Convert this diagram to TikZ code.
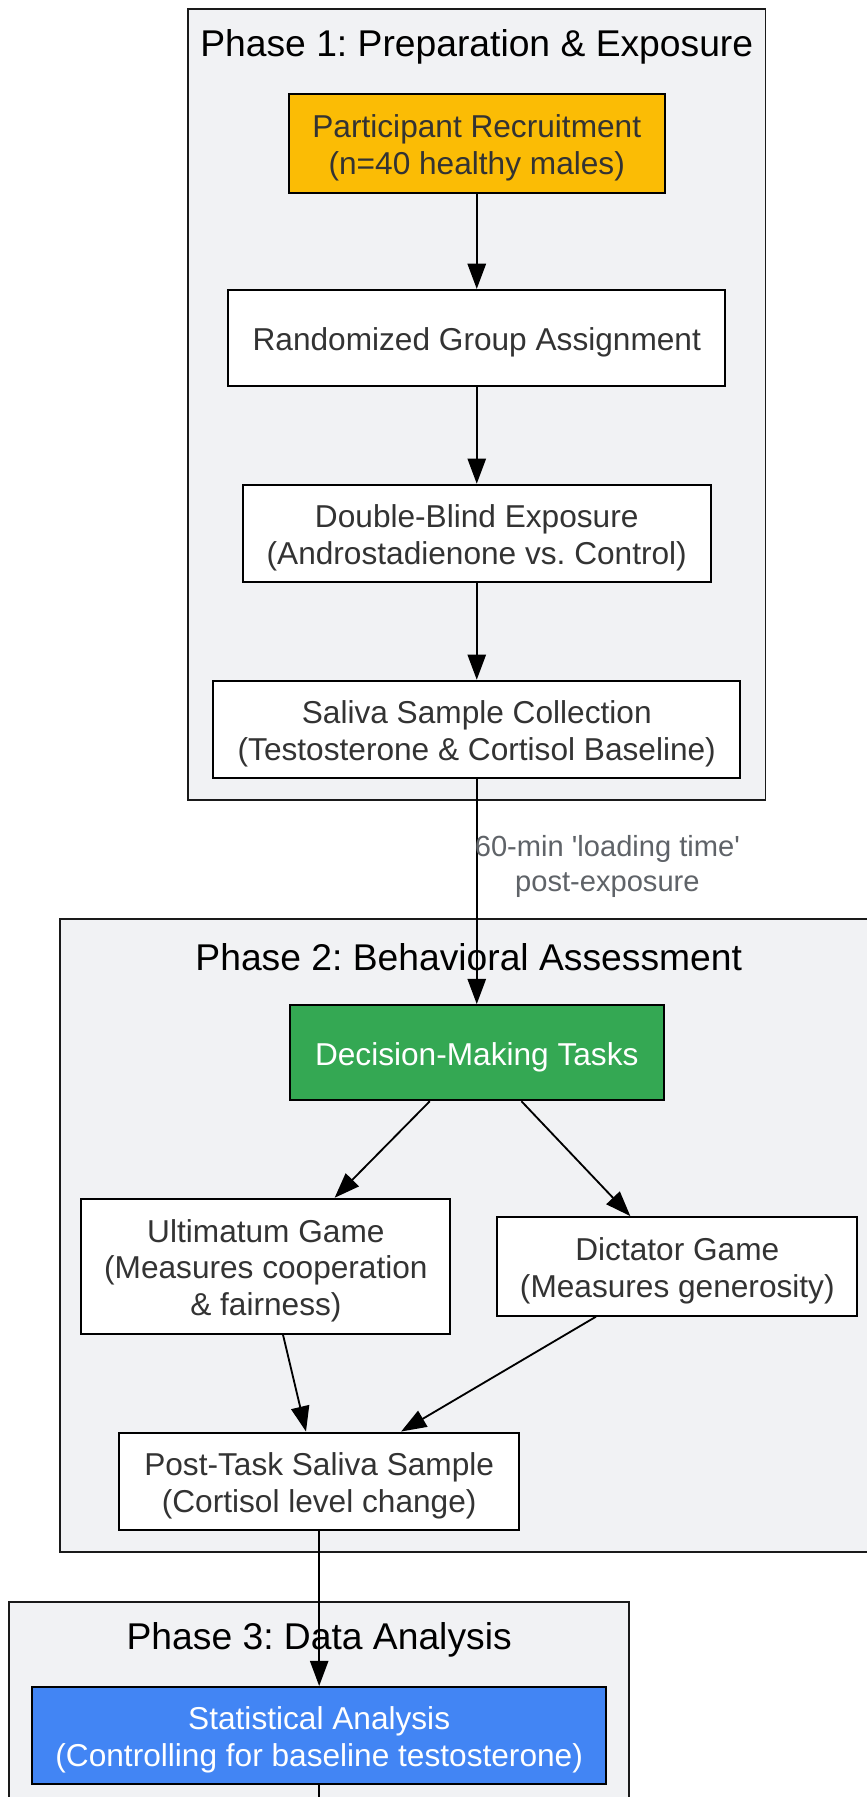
\documentclass[tikz,border=0pt]{standalone}
\usepackage{fontspec}
\setmainfont{Liberation Sans}
\usetikzlibrary{arrows.meta}
\definecolor{clfill}{HTML}{F1F2F4}
\definecolor{clborder}{HTML}{1A1A1A}
\definecolor{txt}{HTML}{333333}
\definecolor{lbl}{HTML}{5F6368}
\definecolor{yel}{HTML}{FBBC05}
\definecolor{grn}{HTML}{34A853}
\definecolor{blu}{HTML}{4285F4}
\tikzset{
  cluster/.style={draw=clborder, fill=clfill, line width=1.6pt},
  ctitle/.style={font=\fontsize{32.5}{38}\selectfont, text=black, anchor=center, inner sep=0},
  box/.style={draw=black, fill=white, line width=1.8pt, align=center, text=txt,
    font=\fontsize{27.6}{32}\selectfont, inner sep=0, text depth=3.2pt},
  oneline/.style={text height=25pt},
  twolines/.style={text height=57pt},
  threelines/.style={text height=89pt},
  arr/.style={draw=black, line width=1.6pt, -{Triangle[length=22pt,width=16pt]}},
  plain/.style={draw=black, line width=1.6pt},
  elabel/.style={font=\fontsize{25.4}{31}\selectfont, text=lbl, align=center, inner sep=0}
}
\begin{document}
\frenchspacing
\begin{tikzpicture}[x=1pt,y=-1pt]
\useasboundingbox (0,0) rectangle (756,1568);
% clusters
\draw[cluster] (164,8) rectangle (668,698);
\node[ctitle] (t1) at (416,41) {Phase 1: Preparation \& Exposure};
\draw[cluster] (52,802) rectangle (770,1354);
\node[ctitle] (t2) at (409,835) {Phase 2: Behavioral Assessment};
\draw[cluster] (8,1398) rectangle (549,1590);
\node[ctitle] (t3) at (278.5,1431) {Phase 3: Data Analysis};
% nodes
\node[box, twolines, fill=yel, minimum width=328, minimum height=86] (rec) at (416,125)
  {Participant Recruitment\\(n=40 healthy males)};
\node[box, oneline, minimum width=434, minimum height=84] (rand) at (416,295)
  {Randomized Group Assignment};
\node[box, twolines, minimum width=408, minimum height=85] (dbl) at (416,465.5)
  {Double-Blind Exposure\\(Androstadienone vs.\ Control)};
\node[box, twolines, minimum width=460, minimum height=85] (sal) at (416,636.5)
  {Saliva Sample Collection\\(Testosterone \& Cortisol Baseline)};
\node[box, oneline, fill=grn, text=white, minimum width=326, minimum height=83] (dec) at (416,918.5)
  {Decision-Making Tasks};
\node[box, threelines, minimum width=322, minimum height=118] (ult) at (232,1105)
  {Ultimatum Game\\(Measures cooperation\\\& fairness)};
\node[box, twolines, minimum width=314, minimum height=86] (dic) at (591,1105)
  {Dictator Game\\(Measures generosity)};
\node[box, twolines, minimum width=349, minimum height=85] (post) at (278.5,1292.5)
  {Post-Task Saliva Sample\\(Cortisol level change)};
\node[box, twolines, fill=blu, text=white, minimum width=501, minimum height=85] (stat) at (278.5,1514.5)
  {Statistical Analysis\\(Controlling for baseline testosterone)};
\coordinate (out) at (278.5,1590);
% edges
\draw[arr] (rec) -- (rand);
\draw[arr] (rand) -- (dbl);
\draw[arr] (dbl) -- (sal);
\draw[arr] (sal) -- (dec);
\node[elabel] (lab) at (530,756) {60-min \textquotesingle loading time\textquotesingle\\post-exposure};
\draw[arr] ([xshift=-41pt]dec.south) -- ([xshift=60pt]ult.north);
\draw[arr] ([xshift=39pt]dec.south) -- ([xshift=-41pt]dic.north);
\draw[arr] ([xshift=15pt]ult.south) -- ([xshift=-11.5pt]post.north);
\draw[arr] ([xshift=-71pt]dic.south) -- ([xshift=71.5pt]post.north);
\draw[arr] (post) -- (stat);
\draw[plain] (stat.south) -- (out);
\end{tikzpicture}
\end{document}
